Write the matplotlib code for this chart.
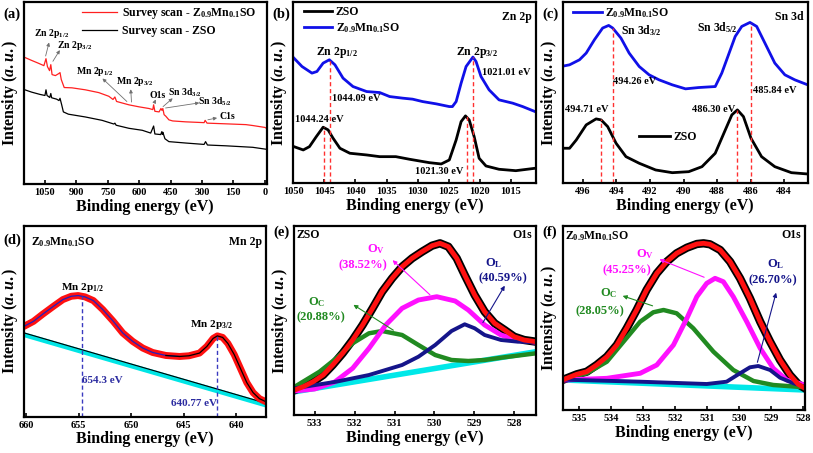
import matplotlib
matplotlib.use("Agg")
import matplotlib.pyplot as plt

plt.rcParams["font.family"] = "Liberation Serif"
plt.rcParams["font.weight"] = "bold"
plt.rcParams["axes.labelweight"] = "bold"
plt.rcParams["mathtext.fontset"] = "custom"
plt.rcParams["mathtext.rm"] = "Liberation Serif:bold"
plt.rcParams["mathtext.it"] = "Liberation Serif:italic:bold"
plt.rcParams["mathtext.bf"] = "Liberation Serif:bold"

MN = "Z$_{0.9}$Mn$_{0.1}$SO"

# (a) survey scans
survey_mn_ev = [1154, 1114, 1082, 1055, 1045, 1038, 1028, 1022, 1016, 1000, 985, 978, 972, 965, 958,
                921, 857, 793, 745, 725, 716, 708, 649, 601, 553, 535, 531, 525, 505, 496, 491, 487,
                481, 473, 458, 440, 378, 290, 285, 276, 186, 90, 58, 0, -8]
survey_mn_int = [128, 124.3, 121.5, 119, 126, 118, 114, 120, 110, 109, 110.9, 112, 105, 101, 97,
                 96.7, 94.7, 91.9, 88.2, 85, 87.5, 83, 79.6, 77.6, 75.9, 74.8, 79.6, 73.1, 72.5, 75.9, 74, 75.9,
                 69.7, 68.2, 64.5, 63.4, 62.5, 61.7, 64, 61.2, 60.5, 59.7, 58.8, 56.9, 56]
survey_zso_ev = [1154, 1114, 1074, 1050, 1045, 1040, 1027, 1022, 1018, 994, 983, 978, 970, 962, 938,
                 857, 777, 721, 716, 710, 649, 585, 545, 531, 525, 497, 492, 489, 487, 477, 458, 378,
                 290, 283, 274, 186, 58, -8]
survey_zso_int = [95.3, 92.4, 90.1, 89, 94.7, 89, 87, 91, 86.7, 85.3, 83.9, 86.2, 79.6, 72.5, 70.2,
                  67.4, 64, 60.3, 61.2, 59.1, 56, 54, 51.2, 58.3, 50.3, 49.7, 52.6, 50, 52, 45.5, 42.6, 41.2,
                  39.8, 42.6, 39.2, 38.4, 36.9, 34.9]

# (b) Zn 2p
zn_mn_ev = [1049.9, 1048.6, 1047.0, 1046.2, 1045.2, 1044.2, 1043.3, 1042.0, 1040.4, 1038.2, 1036.1,
            1034.5, 1032.4, 1030.8, 1029.2, 1027.0, 1024.9, 1024.4, 1023.8, 1023.0, 1022.2, 1021.1,
            1020.6, 1019.8, 1018.5, 1016.9, 1014.7, 1013.1, 1011.1]
zn_mn_int = [125, 116.6, 110, 111.6, 120, 123.3, 118.3, 105, 96.6, 91.6, 90.6,
             86.6, 85, 84, 81.6, 79.3, 76.6, 76.6, 81.6, 100, 116.6, 126,
             121.6, 106.6, 93.3, 83.3, 80, 76.6, 71.6]
zn_zso_ev = [1049.9, 1048.4, 1047.4, 1046.3, 1045.2, 1044.4, 1043.6, 1042.5, 1040.9, 1038.2, 1036.1,
             1033.5, 1031.3, 1028.1, 1026.2, 1024.9, 1023.8, 1023.0, 1022.3, 1021.7, 1020.9, 1020.1,
             1019.0, 1016.9, 1014.2, 1011.1]
zn_zso_int = [36.6, 33.3, 36.6, 46.6, 56, 53.3, 45, 35, 30, 28.3, 26.6,
              26.6, 24, 20.6, 19.3, 23.3, 43.3, 61.6, 67.3, 63.3, 46.6, 25,
              17.3, 14, 12.6, 15]
zn_peak_ev = [1045.1, 1044.1, 1022.0, 1021.1]
zn_peak_top = [56, 123, 67, 126]

# (c) Sn 3d
sn_mn_ev = [497.3, 496.79, 496.2, 495.8, 495.31, 494.82, 494.46, 494.22, 493.73, 493.24, 492.64,
            492.05, 491.46, 490.67, 489.88, 489.1, 488.11, 487.72, 487.32, 486.92, 486.53, 486.04,
            485.64, 485.15, 484.56, 483.96, 483.37, 482.6]
sn_mn_int = [116.6, 118.3, 123.3, 130, 143.3, 155, 157.6, 155, 145, 130, 116.6,
             108.3, 103.3, 98.3, 94.3, 95.6, 96.6, 110, 128.3, 146.6, 156.6, 160.6,
             156.6, 140, 120, 108.3, 103.3, 98.3]
sn_zso_ev = [497.3, 496.79, 496.39, 495.8, 495.21, 494.91, 494.52, 494.02, 493.43, 492.64, 491.66,
             490.67, 489.69, 488.9, 488.11, 487.51, 487.12, 486.79, 486.43, 485.98, 485.35, 484.56,
             483.57, 482.6]
sn_zso_int = [35, 35, 43.3, 58.3, 64.3, 63.3, 56.6, 40, 26.6, 20, 13.3,
              10.6, 11.6, 16.6, 30, 53.3, 68.3, 73.3, 66.6, 45, 26.6, 16.6,
              10.6, 9.3]
sn_peak_ev = [494.91, 494.22, 486.79, 485.98]
sn_peak_top = [64, 155, 73, 160]

# (d) Mn 2p
mn_ev = [660.2, 659.3, 658.4, 657.4, 656.5, 655.7, 655.05, 654.4, 653.6, 652.7, 651.7, 650.8,
         649.85, 648.9, 647.96, 646.7, 645.4, 644.5, 643.5, 642.8, 642.2, 641.8, 641.3, 640.8,
         640.2, 639.6, 639.0, 638.4, 637.8, 637.2]
mn_int = [90, 95, 102.3, 110, 116.7, 120, 120.7, 119.4, 115.7, 106.7, 95, 83.4,
          75, 68.4, 64, 61, 60, 60.7, 63.4, 70, 78, 80.5, 79, 73,
          62, 48, 34, 24, 18, 15]
mn_bg_ev = [660.2, 637.2]
mn_bg_int = [81.7, 11.7]
mn_peak_ev = [654.7, 641.8]
mn_peak_top = [120, 80.5]

# (e) O 1s, ZSO
oz_env_ev = [533.5, 533.29, 533.04, 532.79, 532.55, 532.3, 532.05, 531.8, 531.55, 531.31, 531.06,
             530.81, 530.56, 530.31, 530.06, 529.86, 529.65, 529.44, 529.24, 528.99, 528.74, 528.49,
             528.24, 528.0, 527.75, 527.45]
oz_env_int = [25, 28.3, 33.3, 40, 50, 61.7, 75, 90, 106.7, 123.3, 136.7,
              148.3, 156.7, 163.3, 169.3, 171.7, 168.3, 156.7, 140, 120, 103.3, 91.7,
              85, 78.3, 75, 73.3]
oz_ov_ev = [533.5, 533.0, 532.5, 532.05, 531.64, 531.22, 530.81, 530.4, 529.94, 529.48, 529.15,
            528.74, 528.33, 527.91, 527.45]
oz_ov_int = [24, 26, 33, 46.7, 66.7, 90, 106.7, 115, 118.3, 114, 105,
             90, 80, 75, 72.7]
oz_oc_ev = [533.5, 532.88, 532.46, 532.05, 531.64, 531.31, 530.81, 530.4, 529.98, 529.57, 529.15,
            528.74, 528.33, 527.45]
oz_oc_int = [28.3, 43.3, 56.7, 71.7, 81.7, 84, 80, 70, 60, 55, 54,
             55, 57.3, 61.7]
oz_ol_ev = [533.5, 532.46, 531.64, 530.81, 530.4, 529.98, 529.57, 529.24, 528.99, 528.74, 528.33,
            527.91, 527.45]
oz_ol_int = [26.7, 33.3, 40, 50, 58.3, 70, 84, 90.7, 86.7, 80, 75,
             73.3, 72.7]
oz_bg_ev = [533.5, 527.45]
oz_bg_int = [23.3, 63.3]

# (f) O 1s, Z0.9Mn0.1SO
om_env_ev = [535.45, 535.08, 534.77, 534.46, 534.14, 533.83, 533.52, 533.21, 532.9, 532.58, 532.27,
             531.96, 531.64, 531.33, 531.12, 530.92, 530.6, 530.29, 529.98, 529.67, 529.35, 529.04,
             528.73, 528.42, 528.16, 527.95]
om_env_int = [31, 35.7, 38.3, 45, 53.3, 65, 81.7, 100, 120, 136.7, 148.3,
              156.7, 162.3, 166, 166.7, 165.7, 160, 148.3, 131.7, 111.7, 88.3, 68.3,
              50, 35, 25.7, 21.7]
om_ov_ev = [535.45, 534.14, 533.1, 532.58, 532.06, 531.64, 531.33, 531.02, 530.76, 530.5, 530.19,
            529.77, 529.35, 528.94, 528.52, 527.95]
om_ov_int = [30, 31.7, 36.7, 45, 65, 91.7, 113.3, 126.7, 131.7, 128.3, 113.3,
             88.3, 61.7, 41.7, 30, 25]
om_oc_ev = [535.45, 534.77, 534.14, 533.62, 533.1, 532.69, 532.37, 531.96, 531.44, 530.81, 530.19,
            529.56, 528.94, 527.95]
om_oc_int = [31, 36.7, 48.3, 68.3, 88.3, 97.7, 100, 96.7, 81.7, 58.3, 40,
             29, 25, 22.7]
om_ol_ev = [535.45, 533.1, 531.02, 530.4, 529.98, 529.67, 529.41, 529.04, 528.73, 528.31, 527.95]
om_ol_int = [30.3, 28.3, 26, 28.3, 36.7, 42.7, 44, 40, 32.3, 26.7, 23.3]
om_bg_ev = [535.45, 527.95]
om_bg_int = [30, 20]

W, H = 813, 453

fig = plt.figure(figsize=(W / 100, H / 100), dpi=100)


def panel(left, top, right, bottom, xlim, ylim, ticks):
    ax = fig.add_axes([left / W, 1 - bottom / H, (right - left) / W, (bottom - top) / H])
    ax.set_xlim(*xlim)
    ax.set_ylim(*ylim)
    ax.set_xticks(ticks)
    ax.set_yticks([])
    for s in ax.spines.values():
        s.set_linewidth(1.6)
    ax.tick_params(axis="x", direction="in", length=3, width=1.2, labelsize=7.5, pad=3)
    ax.set_xlabel("Binding energy (eV)", fontsize=11.5, labelpad=1)
    ax.set_ylabel("Intensity ($a.u.$)", fontsize=11.5, labelpad=3)
    return ax


def letter(x, y, s):
    fig.text(x / W, 1 - y / H, s, fontsize=10.5, ha="left", va="center")


# ---------------- (a)
ax = panel(24, 2, 266.5, 184, (1150, -8), (0, 183), [1050, 900, 750, 600, 450, 300, 150, 0])
ax.plot(survey_mn_ev, survey_mn_int, color="#ff2020", lw=0.9, label="Survey scan - " + MN)
ax.plot(survey_zso_ev, survey_zso_int, color="black", lw=0.9, label="Survey scan - ZSO")
ax.legend(loc="upper right", bbox_to_anchor=(1.0, 1.035), frameon=False, fontsize=8.5,
          handlelength=3.0, handletextpad=0.4, labelspacing=0.3)
arrow = dict(arrowstyle="-|>", color="#707070", lw=0.6, mutation_scale=5)
survey_notes = [
    ("Zn 2p$_{1/2}$", (1019, 151), (1050, 126), (1027, 145)),
    ("Zn 2p$_{3/2}$", (910, 139), (1019, 121), (972, 137)),
    ("Mn 2p$_{1/2}$", (811, 113), (649, 81), (785, 108)),
    ("Mn 2p$_{3/2}$", (622, 103), (636, 79.6), (641, 98)),
    ("O1s", (513, 89), (531, 80), (521, 85)),
    ("Sn 3d$_{3/2}$", (381, 92), (496, 76), (430, 88)),
    ("Sn 3d$_{5/2}$", (239, 83), (487, 76), (300, 82)),
    ("C1s", (178, 68), (285, 64), (215, 67)),
]
for s, txt, tail, head in survey_notes:
    ax.text(*txt, s, fontsize=7, ha="center", va="center")
    ax.annotate("", xy=head, xytext=tail, arrowprops=arrow)
letter(3, 14, "(a)")

# ---------------- (b)
ax = panel(293.3, 2, 535.7, 183.3, (1050, 1011), (0, 181), [1050, 1045, 1040, 1035, 1030, 1025, 1020, 1015])
ax.plot(zn_zso_ev, zn_zso_int, color="black", lw=2, label="ZSO")
ax.plot(zn_mn_ev, zn_mn_int, color="#1010e8", lw=2, label=MN)
ax.vlines(zn_peak_ev, 0, zn_peak_top, colors="#ff3030", linestyles=(0, (3, 2)), lw=1)
ax.legend(loc="upper left", bbox_to_anchor=(0.0, 1.035), frameon=False, fontsize=8.5,
          handlelength=2.4, handletextpad=0.3, labelspacing=0.25)
ax.text(0.985, 0.95, "Zn 2p", transform=ax.transAxes, fontsize=8.5, ha="right", va="top")
ax.text(1042.9, 130.6, "Zn 2p$_{1/2}$", fontsize=8.5, ha="center", va="center")
ax.text(1020.4, 130.6, "Zn 2p$_{3/2}$", fontsize=8.5, ha="center", va="center")
ax.text(1043.8, 85, "1044.09 eV", fontsize=7.5, ha="left", va="center")
ax.text(1019.6, 111, "1021.01 eV", fontsize=7.5, ha="left", va="center")
ax.text(1049.7, 63.3, "1044.24 eV", fontsize=7.5, ha="left", va="center")
ax.text(1030.5, 11.6, "1021.30 eV", fontsize=7.5, ha="left", va="center")
letter(272, 14, "(b)")

# ---------------- (c)
ax = panel(562.7, 2, 807.7, 183.3, (497.2, 482.6), (0, 181), [496, 494, 492, 490, 488, 486, 484])
l1, = ax.plot(sn_mn_ev, sn_mn_int, color="#1010e8", lw=2, label=MN)
l2, = ax.plot(sn_zso_ev, sn_zso_int, color="black", lw=2, label="ZSO")
ax.vlines(sn_peak_ev, 0, sn_peak_top, colors="#ff3030", linestyles=(0, (3, 2)), lw=1)
leg = ax.legend(handles=[l1], loc="upper left", bbox_to_anchor=(0.0, 1.035), frameon=False,
                fontsize=8.5, handlelength=2.4, handletextpad=0.3)
ax.add_artist(leg)
ax.legend(handles=[l2], loc="center left", bbox_to_anchor=(0.27, 0.255), frameon=False,
          fontsize=8.5, handlelength=2.6, handletextpad=0.3)
ax.text(0.985, 0.95, "Sn 3d", transform=ax.transAxes, fontsize=8.5, ha="right", va="top")
ax.text(493.73, 152, "Sn 3d$_{3/2}$", fontsize=8.5, ha="left", va="center")
ax.text(489.2, 155, "Sn 3d$_{5/2}$", fontsize=8.5, ha="left", va="center")
ax.text(494.22, 101.6, "494.26 eV", fontsize=7.5, ha="left", va="center")
ax.text(485.84, 92.6, "485.84 eV", fontsize=7.5, ha="left", va="center")
ax.text(497.08, 73.3, "494.71 eV", fontsize=7.5, ha="left", va="center")
ax.text(489.49, 74, "486.30 eV", fontsize=7.5, ha="left", va="center")
letter(542, 14, "(c)")

# ---------------- (d)
ax = panel(24, 226, 265.7, 416.7, (660.2, 637.2), (0, 190), [660, 655, 650, 645, 640])
ax.plot(mn_bg_ev, mn_bg_int, color="#00e5e5", lw=3.5)
ax.plot(mn_bg_ev, [v + 1.8 for v in mn_bg_int], color="black", lw=0.8)
ax.plot(mn_ev, mn_int, color="#ff1010", lw=5, solid_capstyle="round")
ax.plot(mn_ev[:17], mn_int[:17], color="#2020c0", lw=0.9)
ax.plot(mn_ev[15:], mn_int[15:], color="black", lw=0.9)
ax.vlines(mn_peak_ev, 0, mn_peak_top, colors="#3a3ac0", linestyles=(0, (3, 2)), lw=1)
ax.text(0.03, 0.95, MN, transform=ax.transAxes, fontsize=8.5, ha="left", va="top")
ax.text(0.985, 0.95, "Mn 2p", transform=ax.transAxes, fontsize=8.5, ha="right", va="top")
ax.text(654.65, 128.4, "Mn 2p$_{1/2}$", fontsize=8, ha="center", va="center")
ax.text(642.4, 91.7, "Mn 2p$_{3/2}$", fontsize=8, ha="center", va="center")
ax.text(654.7, 36, "654.3 eV", fontsize=8, ha="left", va="center", color="#2b2ba0")
ax.text(646.2, 13.4, "640.77 eV", fontsize=8, ha="left", va="center", color="#2b2ba0")
letter(3, 240, "(d)")

# ---------------- (e)
ax = panel(294, 226, 535.7, 415, (533.52, 527.46), (0, 189), [533, 532, 531, 530, 529, 528])
ax.plot(oz_bg_ev, oz_bg_int, color="#00e8e8", lw=4)
ax.plot(oz_env_ev, oz_env_int, color="black", lw=6)
ax.plot(oz_oc_ev, oz_oc_int, color="#218a21", lw=3.2)
ax.plot(oz_ov_ev, oz_ov_int, color="#ff10ff", lw=3.5)
ax.plot(oz_ol_ev, oz_ol_int, color="#15158a", lw=2.8)
ax.plot(oz_env_ev, oz_env_int, color="#ff1010", lw=3.5)
ax.text(531.47, 166, "O$_\\mathrm{V}$", fontsize=9, color="#ff10ff", ha="center", va="center")
ax.text(531.8, 150, "(38.52%)", fontsize=9, color="#ff10ff", ha="center", va="center")
ax.annotate("", xy=(531.1, 156.7), xytext=(530.06, 118.3),
            arrowprops=dict(arrowstyle="-|>", color="#ff10ff", lw=0.8, mutation_scale=6))
ax.text(528.51, 152, "O$_\\mathrm{L}$", fontsize=9, color="#15158a", ha="center", va="center")
ax.text(528.29, 136.7, "(40.59%)", fontsize=9, color="#15158a", ha="center", va="center")
ax.annotate("", xy=(528.2, 131.7), xytext=(528.82, 90),
            arrowprops=dict(arrowstyle="-|>", color="#15158a", lw=0.8, mutation_scale=6))
ax.text(532.96, 113, "O$_\\mathrm{C}$", fontsize=9, color="#218a21", ha="center", va="center")
ax.text(532.84, 98, "(20.88%)", fontsize=9, color="#218a21", ha="center", va="center")
ax.annotate("", xy=(532.09, 111.7), xytext=(530.97, 83.3),
            arrowprops=dict(arrowstyle="-|>", color="#218a21", lw=0.8, mutation_scale=6))
ax.text(0.01, 0.985, "ZSO", transform=ax.transAxes, fontsize=8.5, ha="left", va="top")
ax.text(0.985, 0.985, "O1s", transform=ax.transAxes, fontsize=8.5, ha="right", va="top")
letter(273, 232, "(e)")

# ---------------- (f)
ax = panel(562.7, 226, 805, 410, (535.52, 527.95), (0, 184), [535, 534, 533, 532, 531, 530, 529, 528])
ax.plot(om_bg_ev, om_bg_int, color="#00e8e8", lw=4)
ax.plot(om_env_ev, om_env_int, color="black", lw=6)
ax.plot(om_oc_ev, om_oc_int, color="#218a21", lw=3.2)
ax.plot(om_ov_ev, om_ov_int, color="#ff10ff", lw=3.5)
ax.plot(om_ol_ev, om_ol_int, color="#15158a", lw=2.8)
ax.plot(om_env_ev, om_env_int, color="#ff1010", lw=3.5)
ax.text(532.95, 156, "O$_\\mathrm{V}$", fontsize=9, color="#ff10ff", ha="center", va="center")
ax.text(533.52, 140, "(45.25%)", fontsize=9, color="#ff10ff", ha="center", va="center")
ax.annotate("", xy=(532.58, 151.7), xytext=(531.02, 131.7),
            arrowprops=dict(arrowstyle="-|>", color="#ff10ff", lw=0.8, mutation_scale=6))
ax.text(528.88, 146, "O$_\\mathrm{L}$", fontsize=9, color="#15158a", ha="center", va="center")
ax.text(528.94, 130, "(26.70%)", fontsize=9, color="#15158a", ha="center", va="center")
ax.annotate("", xy=(528.83, 120), xytext=(529.46, 45),
            arrowprops=dict(arrowstyle="-|>", color="#15158a", lw=0.8, mutation_scale=6))
ax.text(534.09, 117, "O$_\\mathrm{C}$", fontsize=9, color="#218a21", ha="center", va="center")
ax.text(534.35, 98.3, "(28.05%)", fontsize=9, color="#218a21", ha="center", va="center")
ax.annotate("", xy=(533.73, 115), xytext=(532.63, 103.3),
            arrowprops=dict(arrowstyle="-|>", color="#218a21", lw=0.8, mutation_scale=6))
ax.text(0.01, 0.985, MN, transform=ax.transAxes, fontsize=8.5, ha="left", va="top")
ax.text(0.985, 0.985, "O1s", transform=ax.transAxes, fontsize=8.5, ha="right", va="top")
letter(542, 232, "(f)")

fig.savefig("out.png", dpi=100)
